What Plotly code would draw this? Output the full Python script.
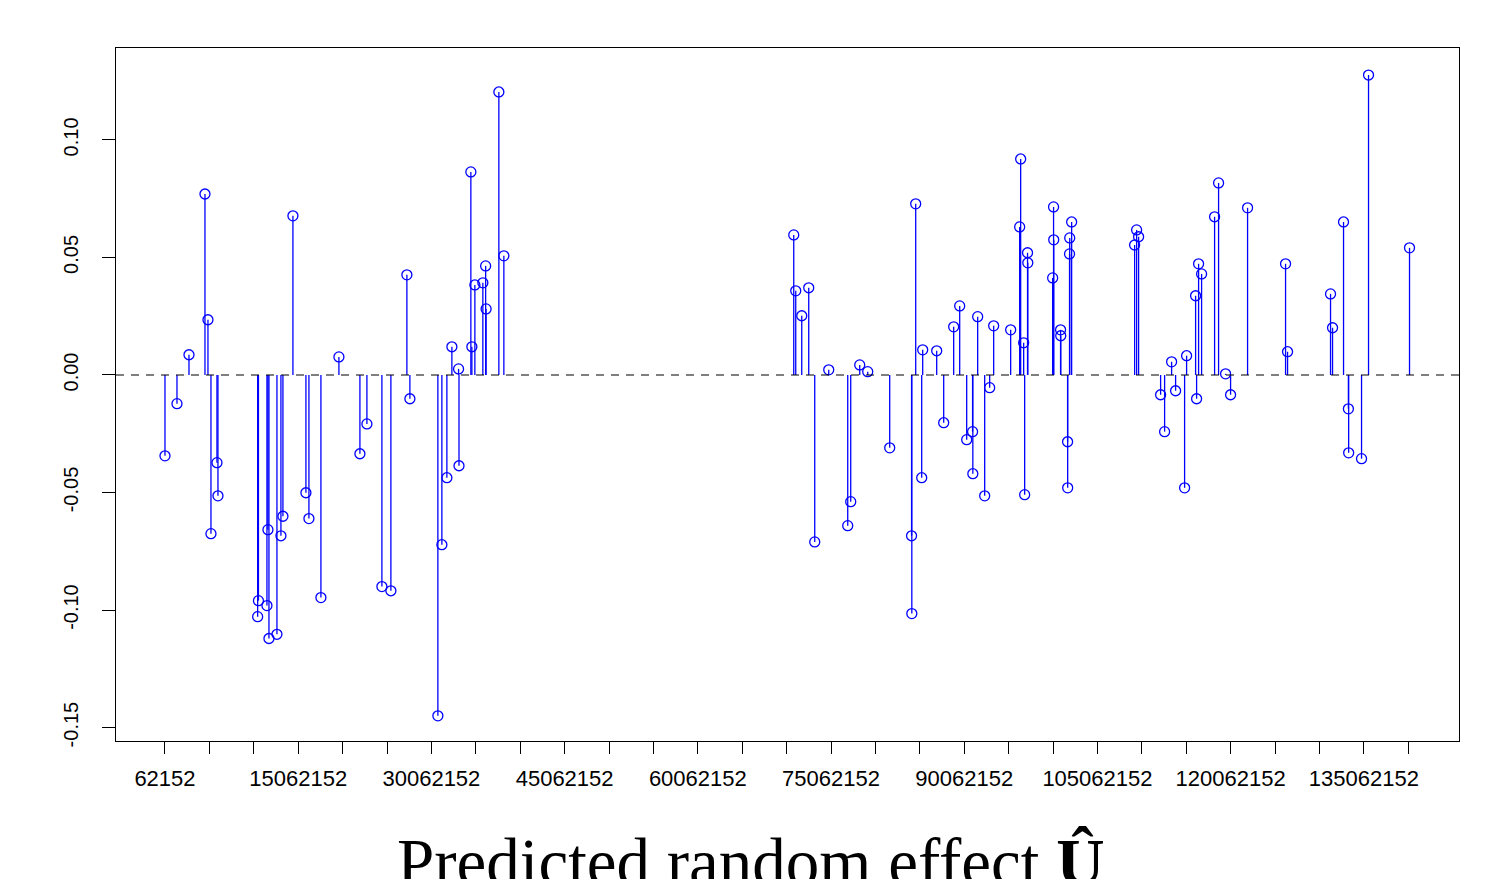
import plotly.graph_objects as go

# Genomic positions (Mb) and predicted random effects
pos_mb = [
    0.062, 1.413, 2.764, 4.565, 4.902, 5.240, 5.915, 6.028, 10.587, 10.497,
    11.656, 11.543, 11.769, 12.669, 13.119, 13.344, 14.470, 15.933, 16.271, 17.622,
    19.648, 22.012, 22.800, 24.488, 25.501, 27.302, 27.640, 30.792, 31.242, 31.805,
    32.368, 33.12, 33.17, 34.506, 34.619, 34.957, 35.857, 36.17, 36.22, 37.658,
    38.221,
    70.864, 71.089, 71.765, 72.553, 73.228, 74.804, 77.280, 76.943, 78.293, 79.194,
    81.670, 84.13, 84.16, 84.597, 85.272, 85.385, 86.961, 87.749, 88.874, 89.550,
    90.338, 91.00, 91.03, 91.576, 92.364, 92.926, 93.377, 95.290, 96.303, 96.416,
    96.754, 96.866, 97.19, 97.22, 100.018, 100.12, 100.14, 100.91, 100.93, 101.70,
    101.71, 101.92, 101.94, 102.157,
    109.248, 109.473, 109.698, 112.175, 112.625, 113.413, 113.863, 115.101, 114.876, 116.115,
    116.227, 116.452, 116.790, 118.253, 118.703, 119.491, 120.054, 121.968, 126.245, 126.470,
    131.310, 131.536, 132.774, 133.32, 133.35, 134.800, 135.588, 140.203,
]
effect = [
    -0.0344, -0.0122, 0.0086, 0.0770, 0.0235, -0.0675, -0.0373, -0.0514, -0.0960, -0.1028,
    -0.0658, -0.0981, -0.1121, -0.1103, -0.0684, -0.0601, 0.0677, -0.0501, -0.0611, -0.0947,
    0.0077, -0.0335, -0.0208, -0.0900, -0.0918, 0.0426, -0.0101, -0.1450, -0.0722, -0.0437,
    0.0120, 0.0026, -0.0386, 0.0864, 0.0120, 0.0383, 0.0392, 0.0464, 0.0281, 0.1204,
    0.0507,
    0.0596, 0.0358, 0.0252, 0.0371, -0.0710, 0.0022, -0.0539, -0.0641, 0.0043, 0.0014,
    -0.0310, -0.0684, -0.1015, 0.0728, -0.0437, 0.0107, 0.0103, -0.0203, 0.0205, 0.0294,
    -0.0275, -0.0241, -0.0420, 0.0248, -0.0514, -0.0054, 0.0209, 0.0192, 0.0630, 0.0919,
    0.0137, -0.0509, 0.0520, 0.0477, 0.0413, 0.0715, 0.0575, 0.0192, 0.0167, -0.0284,
    -0.0480, 0.0515, 0.0583, 0.0651,
    0.0553, 0.0617, 0.0588, -0.0084, -0.0241, 0.0056, -0.0067, 0.0082, -0.0480, 0.0337,
    -0.0101, 0.0473, 0.0430, 0.0673, 0.0817, 0.0005, -0.0084, 0.0711, 0.0473, 0.0099,
    0.0345, 0.0201, 0.0651, -0.0144, -0.0331, -0.0356, 0.1276, 0.0541,
]

x_tickvals = list(range(62152, 140062153, 5000000))
x_ticktext = [str(v) if i % 3 == 0 else "" for i, v in enumerate(x_tickvals)]
y_tickvals = [0.10, 0.05, 0.00, -0.05, -0.10, -0.15]
y_ticktext = ["0.10", "0.05", "0.00", "-0.05", "-0.10", "-0.15"]

positions = [p * 1e6 for p in pos_mb]

stem_x, stem_y = [], []
for px, val in zip(positions, effect):
    stem_x += [px, px, None]
    stem_y += [0, val, None]

fig = go.Figure()
fig.add_trace(go.Scatter(x=stem_x, y=stem_y, mode="lines",
                         line=dict(color="#0000ff", width=1.3),
                         hoverinfo="skip", showlegend=False))
fig.add_trace(go.Scatter(x=positions, y=effect, mode="markers",
                         marker=dict(symbol="circle-open", size=10, color="#0000ff",
                                     line=dict(width=1.3, color="#0000ff")),
                         showlegend=False))

fig.add_shape(type="line", xref="paper", x0=0, x1=1, yref="y", y0=0, y1=0,
              line=dict(color="black", width=1.2, dash="8px,7px"))

fig.add_annotation(text="Predicted random effect <b>Û</b>", xref="paper", yref="paper",
                   x=0.2077, y=-0.118, xanchor="left", yanchor="top", showarrow=False,
                   font=dict(family="Liberation Serif", size=67, color="black"))

fig.update_layout(
    width=1498, height=871,
    margin=dict(l=108, r=47, t=40, b=138),
    paper_bgcolor="white", plot_bgcolor="white",
    font=dict(family="Liberation Sans", color="black"),
)
fig.update_xaxes(range=[-5453435, 145774950], tickmode="array",
                 tickvals=x_tickvals, ticktext=x_ticktext,
                 ticks="outside", ticklen=12, tickwidth=1, tickcolor="black",
                 showline=True, linecolor="black", linewidth=1, mirror=True,
                 showgrid=False, zeroline=False, tickfont=dict(size=22),
                 ticklabelstandoff=6)
fig.update_yaxes(range=[-0.1557, 0.1391], tickmode="array",
                 tickvals=y_tickvals, ticktext=y_ticktext, tickangle=-90,
                 ticks="outside", ticklen=13, tickwidth=1, tickcolor="black",
                 showline=True, linecolor="black", linewidth=1, mirror=True,
                 showgrid=False, zeroline=False, tickfont=dict(size=20),
                 ticklabelstandoff=16)

fig.write_html("out.html")
